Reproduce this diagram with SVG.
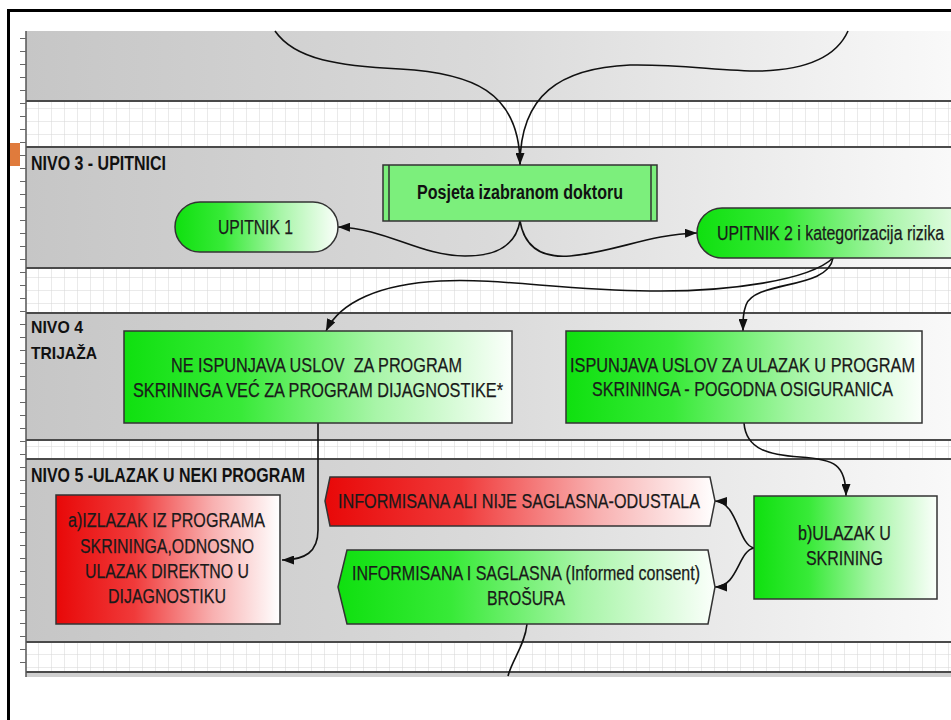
<svg xmlns="http://www.w3.org/2000/svg" width="951" height="720" viewBox="0 0 951 720">
  <defs>
    <style>
      .lane { fill: url(#laneFill); }
      .laneEdge { stroke: #4a4a4a; stroke-width: 2; fill: none; }
      .box { stroke: #333; stroke-width: 1.5; }
      .conn { fill: none; stroke: #111; stroke-width: 1.6; }
      .title { font-family: "Liberation Sans Narrow", "Liberation Sans", Arial, sans-serif; font-weight: bold; fill: #111; }
      .label { font-family: "Liberation Sans Narrow", "Liberation Sans", Arial, sans-serif; font-size: 20.5px; fill: #1a1a1a; stroke: #1a1a1a; stroke-width: 0.25; }
    </style>
    <pattern id="grid" width="13" height="13" patternUnits="userSpaceOnUse" x="26" y="31">
      <rect width="13" height="13" fill="#ffffff"/>
      <path d="M13 0V13M0 13H13" stroke="#d6d6d6" stroke-width="1" fill="none"/>
    </pattern>
    <linearGradient id="laneFill" x1="0" y1="0" x2="1" y2="0">
      <stop offset="0" stop-color="#c6c6c6"/>
      <stop offset="0.5" stop-color="#dadada"/>
      <stop offset="1" stop-color="#f9f9f9"/>
    </linearGradient>
    <linearGradient id="greenFill" x1="0" y1="0" x2="1" y2="0">
      <stop offset="0" stop-color="#0fe00f"/>
      <stop offset="0.3" stop-color="#38ea38"/>
      <stop offset="0.65" stop-color="#a8f5a8"/>
      <stop offset="1" stop-color="#fbfffb"/>
    </linearGradient>
    <linearGradient id="redFill" x1="0" y1="0" x2="1" y2="0">
      <stop offset="0" stop-color="#e80808"/>
      <stop offset="0.35" stop-color="#f03a3a"/>
      <stop offset="0.7" stop-color="#f8b0b0"/>
      <stop offset="1" stop-color="#ffffff"/>
    </linearGradient>
    <marker id="arrow" markerWidth="12" markerHeight="9" refX="12" refY="4.5" orient="auto" markerUnits="userSpaceOnUse">
      <path d="M0,0 L12,4.5 L0,9 z" fill="#111"/>
    </marker>
  </defs>

  <!-- page -->
  <rect width="951" height="720" fill="#ffffff"/>

  <!-- swimlane background grid and ruler -->
  <g id="lanes">
    <rect x="26" y="31" width="925" height="646" fill="url(#grid)"/>
    <rect class="lane" x="26" y="31" width="925" height="70"/>
    <line class="laneEdge" x1="26" y1="101" x2="951" y2="101"/>
    <rect class="lane" x="26" y="147" width="925" height="121"/>
    <line class="laneEdge" x1="26" y1="147" x2="951" y2="147"/>
    <line class="laneEdge" x1="26" y1="268" x2="951" y2="268"/>
    <rect class="lane" x="26" y="313" width="925" height="127"/>
    <line class="laneEdge" x1="26" y1="313" x2="951" y2="313"/>
    <line class="laneEdge" x1="26" y1="440" x2="951" y2="440"/>
    <rect class="lane" x="26" y="459" width="925" height="183"/>
    <line class="laneEdge" x1="26" y1="459" x2="951" y2="459"/>
    <line class="laneEdge" x1="26" y1="642" x2="951" y2="642"/>
    <rect x="26" y="672" width="925" height="5" fill="#cfcfcf"/>
    <line class="laneEdge" x1="26" y1="672" x2="951" y2="672"/>
    <!-- ruler -->
    <line x1="26" y1="31" x2="26" y2="677" stroke="#555" stroke-width="1.5"/>
    <path d="M20 38.5H26M20 51.5H26M20 64.5H26M20 77.5H26M20 90.5H26M20 103.5H26M20 116.5H26M20 129.5H26M20 142.5H26M20 155.5H26M20 168.5H26M20 181.5H26M20 194.5H26M20 207.5H26M20 220.5H26M20 233.5H26M20 246.5H26M20 259.5H26M20 272.5H26M20 285.5H26M20 298.5H26M20 311.5H26M20 324.5H26M20 337.5H26M20 350.5H26M20 363.5H26M20 376.5H26M20 389.5H26M20 402.5H26M20 415.5H26M20 428.5H26M20 441.5H26M20 454.5H26M20 467.5H26M20 480.5H26M20 493.5H26M20 506.5H26M20 519.5H26M20 532.5H26M20 545.5H26M20 558.5H26M20 571.5H26M20 584.5H26M20 597.5H26M20 610.5H26M20 623.5H26M20 636.5H26M20 649.5H26M20 662.5H26" stroke="#666" stroke-width="1"/>
    <!-- lane titles -->
    <text class="title" x="31" y="170" font-size="19.5" textLength="135" lengthAdjust="spacingAndGlyphs">NIVO 3 - UPITNICI</text>
    <text class="title" x="31" y="333" font-size="17" textLength="52" lengthAdjust="spacingAndGlyphs">NIVO 4</text>
    <text class="title" x="31" y="359" font-size="17" textLength="66" lengthAdjust="spacingAndGlyphs">TRIJAŽA</text>
    <text class="title" x="31" y="482" font-size="19.5" textLength="274" lengthAdjust="spacingAndGlyphs">NIVO 5 -ULAZAK U NEKI PROGRAM</text>
  </g>

  <!-- frame -->
  <g id="frame">
    <line x1="8.5" y1="9" x2="8.5" y2="720" stroke="#000" stroke-width="3"/>
    <line x1="7" y1="10.5" x2="951" y2="10.5" stroke="#000" stroke-width="3"/>
    <rect x="10" y="143" width="10" height="23" fill="#e07b3c"/>
  </g>

  <!-- connectors -->
  <g id="connectors">
    <path class="conn" d="M275 31 C295 60 340 66 400 69 C470 73 520 90 520 165"/>
    <path class="conn" d="M848 31 C835 60 800 70 760 71 C720 71 680 64 630 65 C560 68 520 95 520 165" marker-end="url(#arrow)"/>
    <path class="conn" d="M520 221 C515 250 490 256 465 256 C420 256 385 228 338 227" marker-end="url(#arrow)"/>
    <path class="conn" d="M520 221 C525 250 545 258 570 256 C615 252 650 234 697 233" marker-end="url(#arrow)"/>
    <path class="conn" d="M833 258 C810 280 730 292 650 291 C560 290 500 278 440 281 C380 284 340 302 326 331" marker-end="url(#arrow)"/>
    <path class="conn" d="M833 258 C828 290 755 280 746 305 C743 313 743 320 743 331" marker-end="url(#arrow)"/>
    <path class="conn" d="M318 423 L318 530 C318 552 305 560 282 560" marker-end="url(#arrow)"/>
    <path class="conn" d="M744 423 C746 450 770 455 800 457 C835 459 846 465 846 496" marker-end="url(#arrow)"/>
    <path class="conn" d="M754 548 C738 545 738 502 715 501" marker-end="url(#arrow)"/>
    <path class="conn" d="M754 548 C738 551 738 587 715 587" marker-end="url(#arrow)"/>
    <path class="conn" d="M527 624 C525 645 512 660 508 676"/>
  </g>

  <!-- nodes -->
  <g id="posjeta">
    <rect class="box" x="383" y="165" width="274" height="56" fill="#7cef7c"/>
    <line x1="389" y1="165" x2="389" y2="221" stroke="#333" stroke-width="1.5"/>
    <line x1="651" y1="165" x2="651" y2="221" stroke="#333" stroke-width="1.5"/>
    <text class="title" x="417" y="199" font-size="19.5" textLength="206" lengthAdjust="spacingAndGlyphs">Posjeta izabranom doktoru</text>
  </g>

  <g id="upitnik1">
    <rect class="box" x="175" y="202" width="163" height="50" rx="25" fill="url(#greenFill)"/>
    <text class="label" x="218" y="234" textLength="75" lengthAdjust="spacingAndGlyphs">UPITNIK 1</text>
  </g>

  <g id="upitnik2">
    <rect class="box" x="697" y="208" width="290" height="50" rx="25" fill="url(#greenFill)"/>
    <text class="label" x="717" y="240" textLength="227" lengthAdjust="spacingAndGlyphs">UPITNIK 2 i kategorizacija rizika</text>
  </g>

  <g id="ne-ispunjava">
    <rect class="box" x="124" y="331" width="388" height="92" fill="url(#greenFill)"/>
    <text class="label" x="171" y="372" textLength="291" lengthAdjust="spacingAndGlyphs" xml:space="preserve">NE ISPUNJAVA USLOV  ZA PROGRAM</text>
    <text class="label" x="133" y="397" textLength="370" lengthAdjust="spacingAndGlyphs">SKRININGA VEĆ ZA PROGRAM DIJAGNOSTIKE*</text>
  </g>

  <g id="ispunjava">
    <rect class="box" x="566" y="331" width="356" height="92" fill="url(#greenFill)"/>
    <text class="label" x="570" y="372" textLength="345" lengthAdjust="spacingAndGlyphs">ISPUNJAVA USLOV ZA ULAZAK U PROGRAM</text>
    <text class="label" x="592" y="396" textLength="301" lengthAdjust="spacingAndGlyphs">SKRININGA - POGODNA OSIGURANICA</text>
  </g>

  <g id="izlazak">
    <rect class="box" x="56" y="495" width="224" height="129" fill="url(#redFill)"/>
    <text class="label" x="68" y="527" textLength="197" lengthAdjust="spacingAndGlyphs">a)IZLAZAK IZ PROGRAMA</text>
    <text class="label" x="80" y="553" textLength="174" lengthAdjust="spacingAndGlyphs">SKRININGA,ODNOSNO</text>
    <text class="label" x="85" y="578" textLength="164" lengthAdjust="spacingAndGlyphs">ULAZAK DIREKTNO U</text>
    <text class="label" x="108" y="603" textLength="118" lengthAdjust="spacingAndGlyphs">DIJAGNOSTIKU</text>
  </g>

  <g id="odustala">
    <polygon class="box" points="330,477 710,477 715,501 710,526 330,526 325,501" fill="url(#redFill)"/>
    <text class="label" x="338" y="508" textLength="362" lengthAdjust="spacingAndGlyphs">INFORMISANA ALI NIJE SAGLASNA-ODUSTALA</text>
  </g>

  <g id="saglasna">
    <polygon class="box" points="347,550 708,550 715,587 708,624 347,624 338,587" fill="url(#greenFill)"/>
    <text class="label" x="352" y="580" textLength="348" lengthAdjust="spacingAndGlyphs">INFORMISANA I SAGLASNA (Informed consent)</text>
    <text class="label" x="487" y="605" textLength="78" lengthAdjust="spacingAndGlyphs">BROŠURA</text>
  </g>

  <g id="ulazak-skrining">
    <rect class="box" x="754" y="496" width="183" height="103" fill="url(#greenFill)"/>
    <text class="label" x="798" y="540" textLength="93" lengthAdjust="spacingAndGlyphs">b)ULAZAK U</text>
    <text class="label" x="806" y="565" textLength="77" lengthAdjust="spacingAndGlyphs">SKRINING</text>
  </g>
</svg>
